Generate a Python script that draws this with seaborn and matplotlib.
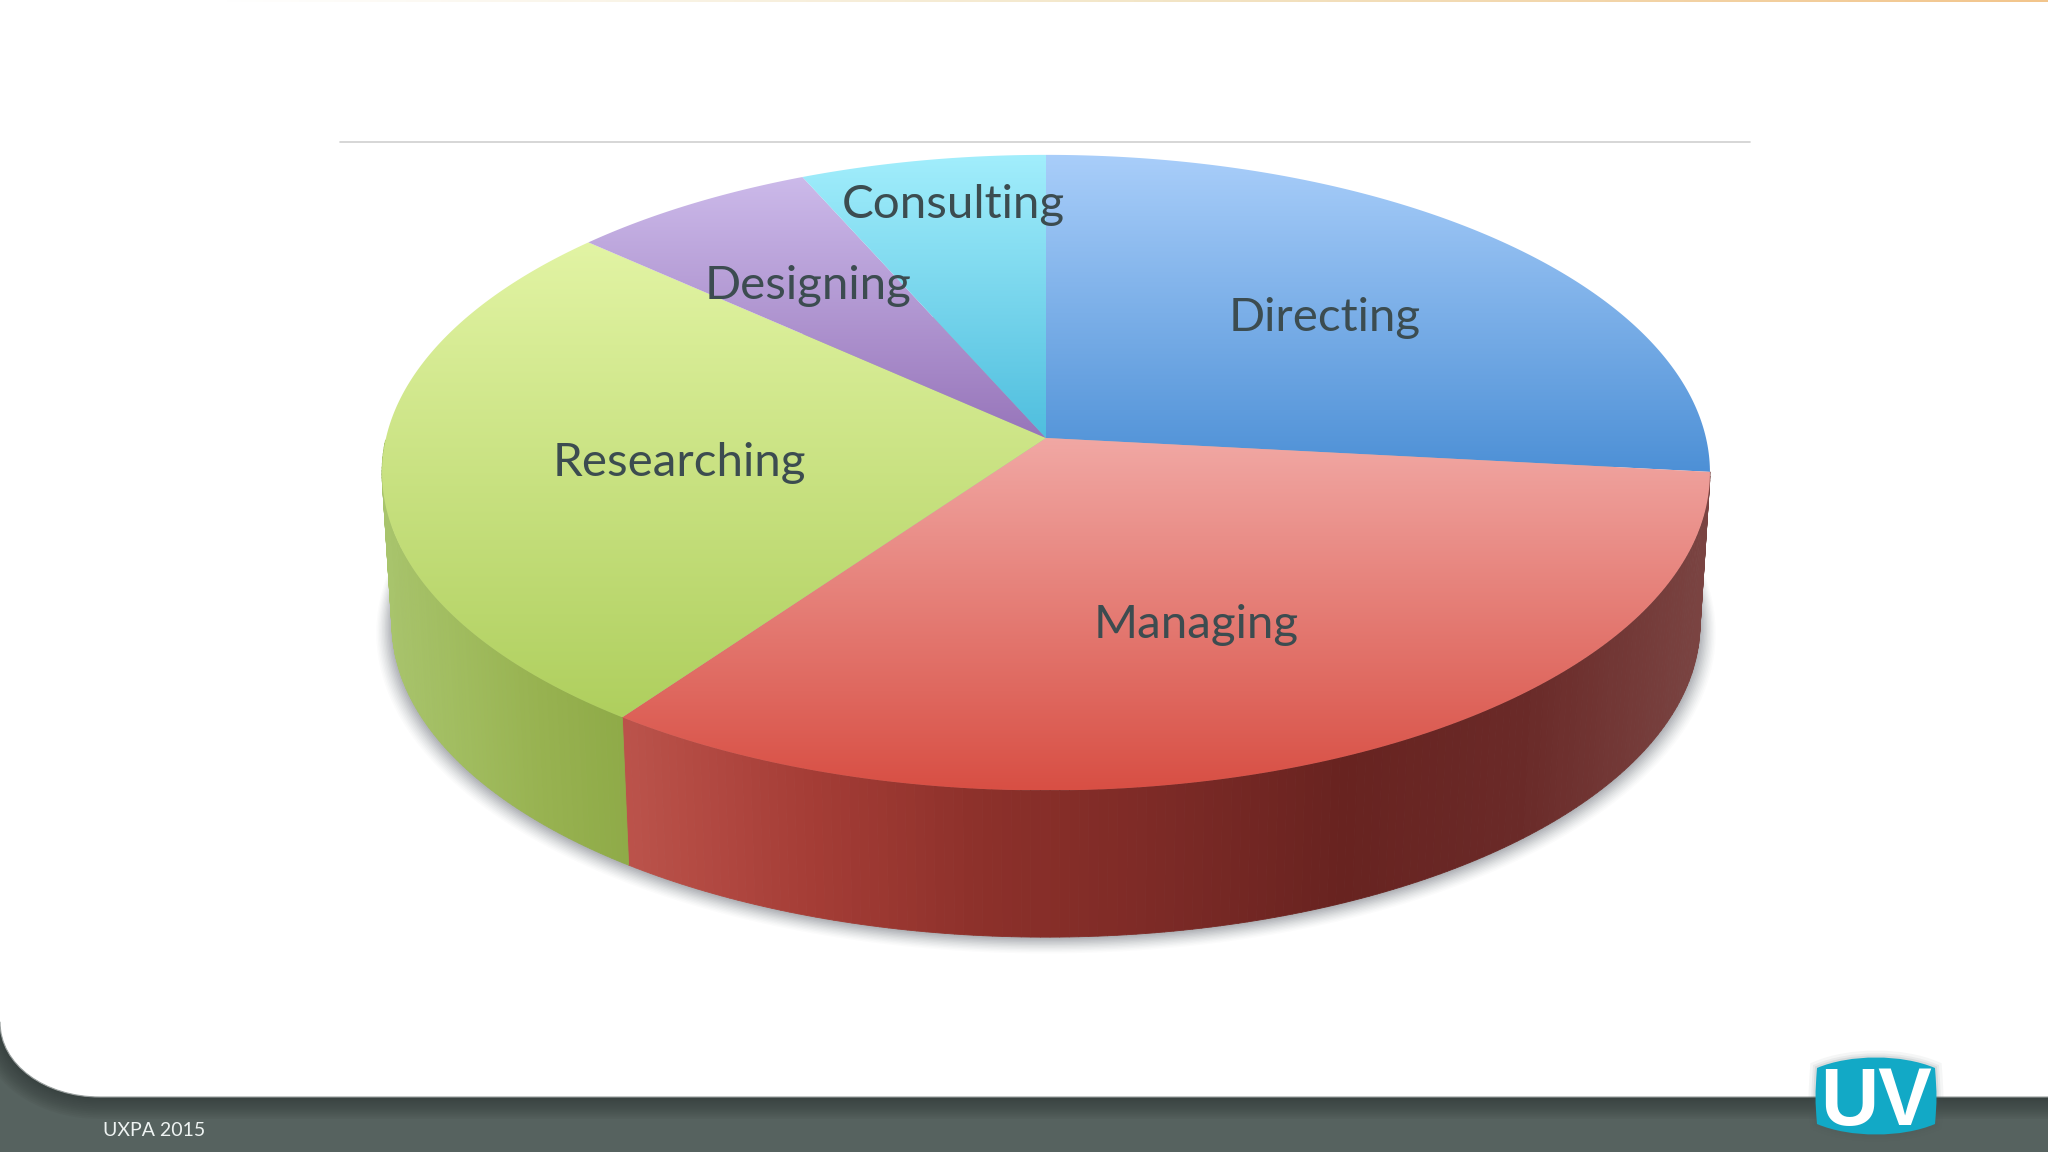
import numpy as np
import matplotlib
matplotlib.use("Agg")
import matplotlib.pyplot as plt
import seaborn as sns
from matplotlib.collections import PolyCollection
from matplotlib.patches import Polygon, PathPatch
from matplotlib.path import Path

categories = ["Directing", "Managing", "Researching", "Designing", "Consulting"]
shares = [26.7, 33.25, 26.7, 6.7, 6.65]

top_light = ["#a9cefa", "#f1a8a4", "#e2f4a4", "#ccbaea", "#a2eefc"]
top_dark = ["#4d90d6", "#d84f44", "#afcf5e", "#9775ba", "#4fbede"]
wall_colors = [
    None,
    ["#bb524a", "#a53d36", "#8c302a", "#7c2a26", "#682320", "#6a2a28", "#7a4442"],
    ["#a8c46c", "#a0bc5e", "#97b250", "#8fab48"],
    None,
    None,
]
label_x = [1325, 1196, 679, 808, 953]
label_y = [318, 625, 463, 286, 205]

W, H = 2048, 1152
CX, CY = 1046, 438
RX, RY, PERSP = 660, 314, 0.109
DEPTH, BOTTOM_SCALE = 152, 0.985
FOOTER_Y = 1097
TEXT_COLOR = "#3c4c50"

sns.set_theme(style="white")
plt.rcParams["font.family"] = ["Lato", "DejaVu Sans"]


def project(theta, scale=1.0, dy=0.0):
    """Circle angle (radians) to picture pixels, with a little perspective."""
    d = 1 + PERSP * np.sin(theta)
    x = CX + scale * RX * np.cos(theta) / d
    y = CY + dy - scale * RY * np.sin(theta) / d
    return np.column_stack([x, y])


fig = plt.figure(figsize=(W / 100, H / 100), dpi=100)
ax = fig.add_axes([0, 0, 1, 1])

# ---------------------------------------------------------------------------
# Slide background
# ---------------------------------------------------------------------------
ax.add_patch(plt.Rectangle((0, 0), W, H, fc="#56625f", ec="none", zorder=0))

# the page runs past the canvas on three sides so only the footer edge shows
verts = [(-60, -60), (W + 60, -60), (W + 60, FOOTER_Y), (100, FOOTER_Y), (45, FOOTER_Y), (0, 1065), (0, 1022),
         (-60, 1022), (-60, -60)]
codes = [Path.MOVETO, Path.LINETO, Path.LINETO, Path.LINETO, Path.CURVE4, Path.CURVE4, Path.CURVE4,
         Path.LINETO, Path.CLOSEPOLY]
page = Path(verts, codes)
for lw in np.linspace(44, 4, 12):
    ax.add_patch(PathPatch(page, fc="none", ec="#2c3533", lw=lw * 0.72, alpha=0.07, zorder=1))
ax.add_patch(PathPatch(page, fc="white", ec="#9aa09f", lw=0.8, zorder=2))

# thin orange strip along the top edge
strip = sns.blend_palette(["#ffffff", "#f3e6c8", "#f2c58c"], as_cmap=True)
ax.imshow(np.linspace(0, 1, 512)[None, :], extent=(220, W, 2, 0), cmap=strip, aspect="auto", zorder=3)
ax.plot([340, 1750], [141.5, 141.5], color="#cfcfcf", lw=1.2, zorder=3)

# ---------------------------------------------------------------------------
# Pie
# ---------------------------------------------------------------------------
angles = np.radians(np.cumsum([0] + shares) / sum(shares) * 360)
starts = np.pi / 2 - angles[:-1]
ends = np.pi / 2 - angles[1:]

# soft shadow under the disc
ring = np.linspace(0, 2 * np.pi, 400)
for s, dy, alpha in zip(np.linspace(1.024, 1.0, 12), np.linspace(8, 1, 12), np.linspace(0.02, 0.075, 12)):
    ax.add_patch(Polygon(project(ring, BOTTOM_SCALE * s, DEPTH + dy), fc="#50545a", ec="none", alpha=alpha, zorder=4))

# side walls, coloured along x
for start, end, stops in zip(starts, ends, wall_colors):
    if stops is None:
        continue
    t = np.linspace(start, end, 160)
    t = t[np.sin(t) <= 0.0] if np.sin(end) < 0.0 or np.sin(start) < 0.0 else t
    upper = project(t)
    lower = project(t, BOTTOM_SCALE, DEPTH)
    quads = [np.array([upper[i], upper[i + 1], lower[i + 1], lower[i]]) for i in range(len(t) - 1)]
    ramp = sns.blend_palette(stops, as_cmap=True)
    xs = upper[:-1, 0]
    colors = ramp((xs - xs.min()) / (xs.max() - xs.min()))
    ax.add_collection(PolyCollection(quads, facecolors=colors, edgecolors=colors, linewidths=0.6, zorder=5))

# top faces, each with its own vertical gradient
for start, end, light, dark in zip(starts, ends, top_light, top_dark):
    t = np.linspace(start, end, 200)
    pts = np.vstack([[CX, CY], project(t)])
    ramp = sns.blend_palette([light, dark], as_cmap=True)
    y0, y1 = pts[:, 1].min(), pts[:, 1].max()
    x0, x1 = pts[:, 0].min(), pts[:, 0].max()
    im = ax.imshow(np.linspace(0, 1, 256)[:, None], extent=(x0, x1, y1, y0), cmap=ramp, aspect="auto", zorder=6)
    im.set_clip_path(Polygon(pts, transform=ax.transData))

for name, x, y in zip(categories, label_x, label_y):
    ax.text(x, y, name, ha="center", va="center", fontsize=34.2, color=TEXT_COLOR, zorder=7)

# ---------------------------------------------------------------------------
# Footer text and logo
# ---------------------------------------------------------------------------
ax.text(103, 1130, "UXPA 2015", ha="left", va="center", fontsize=14, color="#eef3f2", zorder=7)

logo = Path(
    [(1817, 1068), (1850, 1054), (1902, 1054), (1935, 1068), (1937, 1095), (1937, 1100), (1935, 1124),
     (1902, 1138), (1850, 1138), (1817, 1124), (1815, 1100), (1815, 1095), (1817, 1068), (1817, 1068)],
    [Path.MOVETO, Path.CURVE4, Path.CURVE4, Path.CURVE4, Path.CURVE4, Path.CURVE4, Path.CURVE4,
     Path.CURVE4, Path.CURVE4, Path.CURVE4, Path.CURVE4, Path.CURVE4, Path.CURVE4, Path.CLOSEPOLY],
)
for lw, alpha in zip([10, 6, 3], [0.05, 0.07, 0.1]):
    ax.add_patch(PathPatch(logo, fc="none", ec="#4a5a5c", lw=lw, alpha=alpha, zorder=7))
ax.add_patch(PathPatch(logo, fc="#12a9c6", ec="none", zorder=8))
ax.text(1876, 1095, "UV", ha="center", va="center_baseline", fontsize=58, fontweight="bold", color="white",
        family=["Liberation Sans Narrow", "Liberation Sans"], zorder=9)

ax.set_xlim(0, W)
ax.set_ylim(H, 0)
ax.axis("off")

fig.savefig("out.png", dpi=100)
